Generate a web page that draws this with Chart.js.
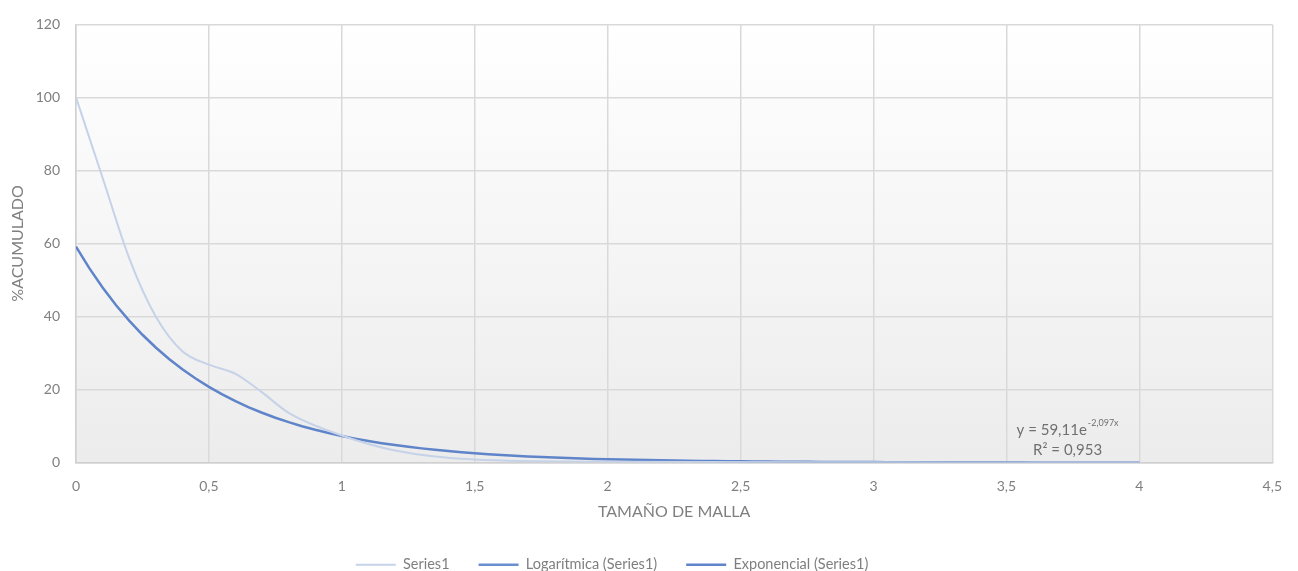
<!DOCTYPE html>
<html>
<head>
<meta charset="utf-8">
<script src="https://cdn.jsdelivr.net/npm/chart.js@4/dist/chart.umd.min.js"></script>
<style>
  html, body { margin: 0; padding: 0; background: #ffffff; }
  #wrap { width: 1298px; height: 571px; position: relative; overflow: hidden; }
</style>
</head>
<body>
<div id="wrap"><canvas id="c" width="1298" height="571"></canvas></div>
<script>
// Tamaño de malla (x) y % acumulado (y) de la serie medida
const tamanoMalla = [0, 0.1, 0.2, 0.3, 0.4, 0.5, 0.6, 0.7, 0.8, 1.0, 1.2, 1.5, 2.0, 3.0, 4.0];
const porcentajeAcumulado = [100, 78, 56, 40, 30.5, 26.8, 24.3, 19.2, 13.6, 7.4, 3.3, 0.8, 0.2, 0.05, 0];

// Línea de tendencia exponencial: y = A·e^(B·x)
const expA = 59.11;
const expB = -2.097;
const expR2 = 0.953;
const tendenciaX = [];
for (let i = 0; i <= 80; i++) tendenciaX.push(i * 0.05);

const xTicks = [0, 0.5, 1, 1.5, 2, 2.5, 3, 3.5, 4, 4.5];
const yTicks = [0, 20, 40, 60, 80, 100, 120];

const fmt = v => String(v).replace('.', ',');
const FONT = 'Lato, "Open Sans", sans-serif';
const TEXT = '#7f7f7f';

const series1 = tamanoMalla.map((x, i) => ({ x, y: porcentajeAcumulado[i] }));
const exponencial = tendenciaX.map(x => ({ x, y: expA * Math.exp(expB * x) }));

// Fondo del área de trazado con degradado vertical
const plotBackground = {
  id: 'plotBackground',
  beforeDraw(chart) {
    const { ctx, chartArea: a } = chart;
    const g = ctx.createLinearGradient(0, a.top, 0, a.bottom);
    g.addColorStop(0, '#ffffff');
    g.addColorStop(1, '#ececec');
    ctx.save();
    ctx.fillStyle = g;
    ctx.fillRect(a.left, a.top, a.right - a.left, a.bottom - a.top);
    ctx.restore();
  }
};

// La leyenda va algo desplazada a la izquierda del centro
const legendShift = {
  id: 'legendShift',
  afterLayout(chart) {
    const l = chart.legend;
    if (l) { l.left -= 25; l.right -= 25; }
  }
};

// Ecuación y R² de la tendencia
const trendLabel = {
  id: 'trendLabel',
  afterDatasetsDraw(chart) {
    const { ctx, scales } = chart;
    const cx = scales.x.getPixelForValue(3.73);
    const y1 = scales.y.getPixelForValue(8.9);
    const y2 = scales.y.getPixelForValue(3.5);
    const main = 'y = ' + fmt(expA) + 'e';
    const sup = fmt(expB) + 'x';
    ctx.save();
    ctx.fillStyle = '#707070';
    ctx.textBaseline = 'middle';
    ctx.font = '15px ' + FONT;
    const wMain = ctx.measureText(main).width;
    ctx.font = '9px ' + FONT;
    const wSup = ctx.measureText(sup).width;
    const x0 = cx - (wMain + wSup + 1) / 2;
    ctx.font = '15px ' + FONT;
    ctx.textAlign = 'left';
    ctx.fillText(main, x0, y1);
    ctx.font = '9px ' + FONT;
    ctx.fillText(sup, x0 + wMain + 1, y1 - 7);
    ctx.font = '15px ' + FONT;
    ctx.textAlign = 'center';
    ctx.fillText('R² = ' + fmt(expR2), cx, y2);
    ctx.restore();
  }
};

new Chart(document.getElementById('c'), {
  type: 'line',
  data: {
    datasets: [
      {
        label: 'Series1',
        data: series1,
        borderColor: '#c5d2e8',
        borderWidth: 2,
        pointRadius: 0,
        cubicInterpolationMode: 'monotone',
        fill: false
      },
      {
        label: 'Logarítmica (Series1)',
        data: [],
        borderColor: '#6a8fd0',
        borderWidth: 2.5,
        pointRadius: 0
      },
      {
        label: 'Exponencial (Series1)',
        data: exponencial,
        borderColor: '#5f84c9',
        borderWidth: 2.5,
        pointRadius: 0,
        tension: 0,
        fill: false
      }
    ]
  },
  options: {
    responsive: false,
    animation: false,
    events: [],
    layout: { padding: { left: 0, right: 24, top: 20, bottom: -11 } },
    plugins: {
      tooltip: { enabled: false },
      legend: {
        position: 'bottom',
        labels: {
          usePointStyle: true,
          pointStyleWidth: 40,
          pointStyle: 'line',
          padding: 29,
          color: TEXT,
          font: { family: FONT, size: 14.5 }
        }
      }
    },
    scales: {
      x: {
        type: 'linear',
        min: 0,
        max: 4.5,
        afterBuildTicks(s) { s.ticks = xTicks.map(v => ({ value: v })); },
        afterFit(s) { s.height = 66; },
        grid: { color: '#d9d9d9', lineWidth: 1.5, drawTicks: false },
        border: { color: '#d0d0d0', width: 1.5 },
        ticks: { padding: 16, color: TEXT, font: { family: FONT, size: 14 }, callback: v => fmt(v) },
        title: { display: true, text: 'TAMAÑO DE MALLA', color: TEXT, font: { family: FONT, size: 16 }, padding: { top: 0, bottom: 7 } }
      },
      y: {
        type: 'linear',
        min: 0,
        max: 120,
        afterBuildTicks(s) { s.ticks = yTicks.map(v => ({ value: v })); },
        afterFit(s) { s.width = 76; },
        grid: { color: '#d9d9d9', lineWidth: 1.5, drawTicks: false },
        border: { color: '#d0d0d0', width: 1.5 },
        ticks: { padding: 16, color: TEXT, font: { family: FONT, size: 14 } },
        title: { display: true, text: '%ACUMULADO', color: TEXT, font: { family: FONT, size: 16 }, padding: { top: 8, bottom: 0 } }
      }
    }
  },
  plugins: [plotBackground, legendShift, trendLabel]
});
</script>
</body>
</html>
